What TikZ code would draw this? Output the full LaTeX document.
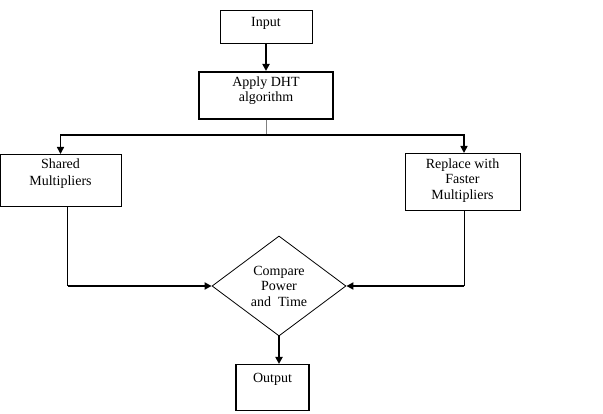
\documentclass[tikz,border=0pt]{standalone}
\usepackage{fontspec}
\setmainfont{Liberation Serif}
\usetikzlibrary{arrows.meta,shapes.geometric}
\begin{document}
\begin{tikzpicture}[x=1pt,y=-1pt,
  every node/.style={font=\fontsize{14}{15.5}\selectfont},
  box/.style={draw=black,line width=1pt,rectangle,inner xsep=0pt,inner ysep=0pt,align=center,anchor=north},
  dia/.style={draw=black,line width=0.8pt,diamond,inner sep=0pt,minimum width=134pt,minimum height=100pt,align=center},
  thinline/.style={line width=0.9pt},
  thickline/.style={line width=2pt},
  tip/.style={-{Triangle[length=7pt,width=7pt]}}]
\useasboundingbox (0,0) rectangle (603,414);
\fill[white] (0,0) rectangle (603,414);
% boxes
\node[box,minimum width=92pt,text height=16pt,text depth=17pt] (in) at (266,10) {Input};
\node[box,line width=1.8pt,minimum width=134pt,text height=30pt,text depth=17pt] (dht) at (266,71) {Apply DHT\\algorithm};
\node[box,minimum width=121pt,text height=31pt,text depth=21pt] (sh) at (60.5,154) {Shared\\[1.5pt]Multipliers};
\node[box,minimum width=115pt,text height=46pt,text depth=11pt] (rp) at (462.5,153) {Replace with\\Faster\\Multipliers};
\node[dia] (cmp) at (279,286) {Compare\\Power\\and\ \ Time};
\node[box,line width=1.2pt,minimum width=73pt,text height=18pt,text depth=28pt] (out) at (272.5,364) {Output};
% connectors
\draw[thickline,tip] (in.south) -- (dht.north);
\coordinate (split) at ([yshift=-15pt]dht.south);
\draw[thinline,gray] (dht.south) -- (split);
\draw[line width=1.6pt,tip] (split) -| (sh.north);
\draw[line width=1.6pt,tip] (split) -| ([xshift=1.5pt]rp.north);
\coordinate (lc) at ([xshift=7pt]sh.south |- cmp.west);
\draw[thinline] ([xshift=7pt]sh.south) -- (lc);
\draw[thickline,tip] (lc) -- (cmp.west);
\coordinate (rc) at ([xshift=1.5pt]rp.south |- cmp.east);
\draw[thinline] ([xshift=1.5pt]rp.south) -- (rc);
\draw[thickline,tip] (rc) -- (cmp.east);
\draw[line width=2.5pt,tip] (cmp.south) -- (cmp.south |- out.north);
\end{tikzpicture}
\end{document}
